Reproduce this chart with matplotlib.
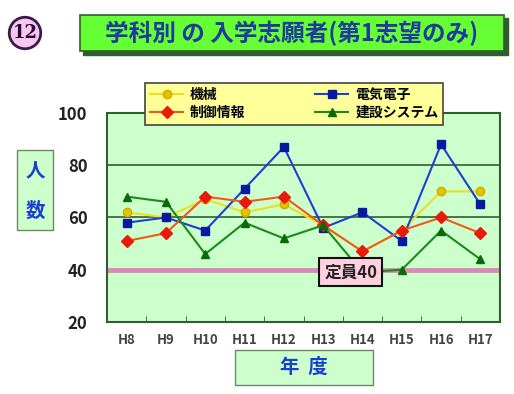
import matplotlib.pyplot as plt
from matplotlib.patches import Rectangle

plt.rcParams['font.family'] = ['Noto Sans CJK JP', 'DejaVu Sans']

years = ['H8', 'H9', 'H10', 'H11', 'H12', 'H13', 'H14', 'H15', 'H16', 'H17']
kikai = [62, 60, 67, 62, 65, 57, 47, 55, 70, 70]
denki = [58, 60, 55, 71, 87, 56, 62, 51, 88, 65]
seigyo = [51, 54, 68, 66, 68, 57, 47, 55, 60, 54]
kensetsu = [68, 66, 46, 58, 52, 57, 39, 40, 55, 44]
teiin = 40

fig = plt.figure(figsize=(5.14, 3.94), dpi=100)
fig.patch.set_facecolor('white')
W, H = 514, 394

def box(x0, y0, x1, y1, fc, ec, lw=1.0, z=1):
    fig.patches.append(Rectangle((x0 / W, 1 - y1 / H), (x1 - x0) / W, (y1 - y0) / H,
                                 transform=fig.transFigure, facecolor=fc,
                                 edgecolor=ec, linewidth=lw, zorder=z))

# title banner with shadow
box(83, 18, 508, 55, '#2f5f2f', '#2f5f2f')
box(80, 15, 504, 51, '#66ff33', '#2f5f2f', lw=1.2, z=2)
fig.text(292 / W, 1 - 33 / H, '学科別 の 入学志願者(第1志望のみ)', ha='center', va='center',
         fontsize=17, fontweight='bold', color='#1f3a9f', zorder=3)

# circled number
fig.text(25 / W, 1 - 33 / H, '12', ha='center', va='center', fontsize=13,
         fontweight='bold', color='#2a0a3a', family='DejaVu Serif',
         bbox=dict(boxstyle='circle,pad=0.18', fc='#f6c8f0', ec='#3a1a4a', lw=2))

ax = fig.add_axes([107 / W, 1 - 322 / H, (500 - 107) / W, (322 - 113) / H])
ax.set_facecolor('#ccffcc')
x = list(range(len(years)))

ax.axhline(teiin, color='#d98ab8', lw=3.5, zorder=1)
for g in (60, 80):
    ax.axhline(g, color='#2f5f2f', lw=1.2, zorder=1)

l1, = ax.plot(x, kikai, color='#e8e020', lw=1.5, marker='o', ms=6, mfc='#e8c000',
              mec='#c8b000', label='機械', zorder=3)
l2, = ax.plot(x, denki, color='#1f3fd0', lw=1.5, marker='s', ms=5.5, mfc='#0a1aa0',
              mec='#0a1aa0', label='電気電子', zorder=3)
l3, = ax.plot(x, seigyo, color='#f05a1a', lw=1.5, marker='D', ms=6, mfc='#e81a0a',
              mec='#e81a0a', label='制御情報', zorder=3)
l4, = ax.plot(x, kensetsu, color='#1a8a1a', lw=1.5, marker='^', ms=6, mfc='#0a6a0a',
              mec='#0a6a0a', label='建設システム', zorder=3)

ax.set_xlim(-0.5, len(years) - 0.5)
ax.set_ylim(20, 100)
ax.set_yticks([20, 40, 60, 80, 100])
ax.set_xticks(x)
ax.set_xticklabels(years)
ax.set_xticks([i + 0.5 for i in x[:-1]], minor=True)
ax.tick_params(axis='x', which='major', length=0, pad=8, labelsize=9.5, labelcolor='#444444')
ax.tick_params(axis='x', which='minor', direction='in', length=4, color='#2f5f2f')
ax.tick_params(axis='y', length=0, pad=14, labelsize=12, labelcolor='#222222')
for lab in ax.get_xticklabels() + ax.get_yticklabels():
    lab.set_fontweight('bold')
for s in ax.spines.values():
    s.set_color('#2f5f2f')
    s.set_linewidth(1.5)

leg = fig.legend(handles=[l1, l3, l2, l4], ncol=2, loc='upper left',
                 bbox_to_anchor=(145 / W, 1 - 83 / H), borderaxespad=0,
                 frameon=True, fancybox=False,
                 prop=dict(size=10, weight='bold'), handlelength=2.4,
                 columnspacing=5.0, borderpad=0.35, labelspacing=0.3,
                 handletextpad=0.5)
leg.get_frame().set_facecolor('#ffff99')
leg.get_frame().set_edgecolor('#444444')
leg.get_frame().set_linewidth(1.2)
leg.get_frame().set_alpha(1)
leg.set_zorder(5)

# capacity label
ax.text(5.7, 39, '定員40', ha='center', va='center', fontsize=12,
        fontweight='bold', color='#222222', zorder=6,
        bbox=dict(boxstyle='square,pad=0.3', fc='#ffd0e0', ec='#111111', lw=1.5))

# axis title boxes
box(17, 150, 53, 230, '#ccffcc', '#6a8a6a')
fig.text(35 / W, 1 - 171 / H, '人', ha='center', va='center', fontsize=14,
         fontweight='bold', color='#1a3fd0')
fig.text(35 / W, 1 - 211 / H, '数', ha='center', va='center', fontsize=14,
         fontweight='bold', color='#1a3fd0')
box(235, 350, 373, 385, '#ccffcc', '#6a8a6a')
fig.text(304 / W, 1 - 367 / H, '年  度', ha='center', va='center', fontsize=14,
         fontweight='bold', color='#1a3fd0')

fig.savefig('out.png', dpi=100)
